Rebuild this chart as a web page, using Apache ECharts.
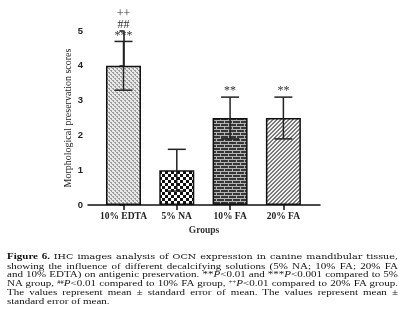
<!DOCTYPE html>
<html><head><meta charset="utf-8">
<script src="https://cdn.jsdelivr.net/npm/echarts@6/dist/echarts.min.js"></script>
<style>
html,body{margin:0;padding:0;background:#fff;}
#chart{position:absolute;left:0;top:0;width:402px;height:333px;}
#cap{position:absolute;left:7px;top:252px;width:391px;font-family:'Liberation Serif',serif;font-size:11px;line-height:10.5px;color:#111;transform:scaleY(0.82);transform-origin:0 0;}
#cap .l{text-align:justify;text-align-last:justify;white-space:nowrap;}
#cap .last{text-align:left;text-align-last:left;}
#cap sup{font-size:6.5px;line-height:0;vertical-align:3.5px;}
</style></head>
<body>
<div id="chart"></div>
<div id="cap">
<div class="l"><b>Figure 6.</b> <span style="font-family:'DejaVu Serif';font-size:9.6px;">IHC images analysis of OCN expression in canine mandibular tissue,</span></div>
<div class="l">showing the influence of different decalcifying solutions (5% NA; 10% FA; 20% FA</div>
<div class="l">and 10% EDTA) on antigenic preservation. **<i>P</i>&lt;0.01 and ***<i>P</i>&lt;0.001 compared to 5%</div>
<div class="l">NA group, <sup>##</sup><i>P</i>&lt;0.01 compared to 10% FA group, <sup>++</sup><i>P</i>&lt;0.01 compared to 20% FA group.</div>
<div class="l">The values represent mean ± standard error of mean. The values represent mean ±</div>
<div class="l last">standard error of mean.</div>
</div>
<script>
const categories = ['10% EDTA', '5% NA', '10% FA', '20% FA'];
const means = [4, 1, 2.5, 2.5];
const errors = [0.7, 0.6, 0.6, 0.6];
const marks = [['***', '##', '++'], [], ['**'], ['**']];
const yMin = 0, yMax = 5, yStep = 1;
const yTitle = 'Morphological preservation scores';
const xTitle = 'Groups';

function makePattern(w, h, bg, fg, pixels) {
  const c = document.createElement('canvas');
  c.width = w; c.height = h;
  const g = c.getContext('2d');
  g.fillStyle = bg; g.fillRect(0, 0, w, h);
  g.fillStyle = fg;
  pixels.forEach(p => g.fillRect(p[0], p[1], p[2] || 1, p[3] || 1));
  return { image: c, repeat: 'repeat' };
}
const patterns = [
  makePattern(4, 4, '#e8e8e8', '#9c9c9c', [[0,0,2,1],[2,2,2,1],[1,1,1,1],[3,3,1,1]]),
  makePattern(6, 6, '#ffffff', '#111111', [[0,0,3,3],[3,3,3,3]]),
  makePattern(8, 6, '#363636', '#b4b4b4', [[0,0,8,1],[0,3,8,1],[0,1,1,2],[4,4,1,2]]),
  makePattern(4, 4, '#f2f2f2', '#7a7a7a', [[3,0],[2,1],[1,2],[0,3],[0,0],[3,1],[2,2],[1,3]])
];

const chart = echarts.init(document.getElementById('chart'), null, { renderer: 'canvas' });
chart.setOption({
  animation: false,
  backgroundColor: '#fff',
  grid: { left: 88, right: 82, top: 31, bottom: 128, containLabel: false },
  xAxis: {
    type: 'value', min: -0.666, max: 3.687,
    splitLine: { show: false },
    axisLine: { show: true, lineStyle: { color: '#111', width: 1.5 } },
    axisTick: { show: true, customValues: [0, 1, 2, 3], length: 5, lineStyle: { color: '#111', width: 1.5 } },
    axisLabel: {
      customValues: [0, 1, 2, 3],
      formatter: v => categories[Math.round(v)],
      fontFamily: 'Liberation Serif', fontWeight: 'bold', fontSize: 9.5, color: '#222', margin: 7
    },
    name: xTitle, nameLocation: 'middle', nameGap: 21, nameMoveOverlap: false,
    nameTextStyle: { fontFamily: 'Liberation Serif', fontWeight: 'bold', fontSize: 9.5, color: '#333' }
  },
  yAxis: {
    type: 'value', min: yMin, max: yMax, interval: yStep,
    splitLine: { show: false },
    axisLine: { show: true, lineStyle: { color: '#111', width: 1.5 } },
    axisTick: { show: true, length: 4, lineStyle: { color: '#111', width: 1.5 } },
    axisLabel: { fontFamily: 'Liberation Sans', fontWeight: 'bold', fontSize: 9.5, color: '#222', margin: 5 },
    name: yTitle, nameLocation: 'middle', nameGap: 15, nameMoveOverlap: false,
    nameTextStyle: { fontFamily: 'Liberation Serif', fontSize: 10, color: '#222' }
  },
  series: [
    {
      type: 'bar', barWidth: 35,
      data: means.map((m, i) => ({ value: [i, m], itemStyle: { color: patterns[i] } })),
      itemStyle: { borderColor: '#111', borderWidth: 1.5 },
      z: 2
    },
    {
      type: 'custom', z: 5,
      data: means.map((m, i) => [i, m, errors[i]]),
      encode: { x: 0, y: 1 },
      renderItem: function (params, api) {
        const i = api.value(0), m = api.value(1), e = api.value(2);
        const top = api.coord([i, m + e]);
        const bot = api.coord([i, m - e]);
        const hw = 9;
        const ls = { stroke: '#222', lineWidth: 1.5 };
        const children = [
          { type: 'line', shape: { x1: top[0], y1: top[1], x2: bot[0], y2: bot[1] }, style: ls },
          { type: 'line', shape: { x1: top[0] - hw, y1: top[1], x2: top[0] + hw, y2: top[1] }, style: ls },
          { type: 'line', shape: { x1: bot[0] - hw, y1: bot[1], x2: bot[0] + hw, y2: bot[1] }, style: ls }
        ];
        marks[Math.round(i)].forEach((t, k) => {
          children.push({ type: 'text', style: {
            text: t, x: top[0], y: top[1] - 6 - 11 * k, align: 'center', verticalAlign: 'middle',
            font: '12px "Liberation Serif"', fill: '#333'
          } });
        });
        return { type: 'group', children: children };
      }
    }
  ]
});
</script>
</body></html>
